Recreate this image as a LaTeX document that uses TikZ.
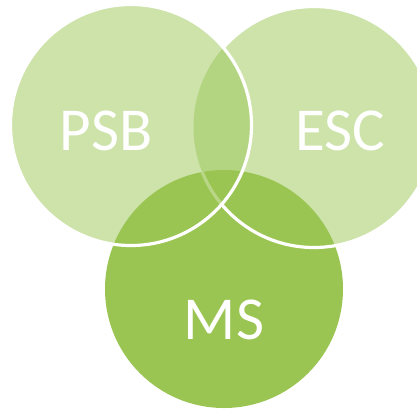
\documentclass[tikz,border=0pt]{standalone}
\usepackage{fontspec}
\setmainfont{Carlito}
\definecolor{lightg}{HTML}{CDE3AA}
\definecolor{midg}{HTML}{B3D582}
\definecolor{darkg}{HTML}{9BC553}
\begin{document}
\begin{tikzpicture}[x=1pt,y=-1pt,
  lbl/.style={text=white,font=\fontsize{61}{61}\selectfont,inner sep=0pt,anchor=center},
  ring/.style={draw=white,line width=3.2pt}]
\useasboundingbox (0,0) rectangle (417,408);
\def\R{120.5}
\coordinate (p) at (131,125);
\coordinate (e) at (314,127);
\coordinate (m) at (224,289);
% fills
\fill[lightg] (p) circle[radius=\R];
\fill[lightg] (e) circle[radius=\R];
\begin{scope}
  \clip (p) circle[radius=\R];
  \fill[midg] (e) circle[radius=\R];
\end{scope}
\fill[darkg] (m) circle[radius=119];
% ESC outline outside PSB
\begin{scope}[even odd rule]
  \clip (-10,-10) rectangle (430,420) (p) circle[radius=\R];
  \draw[ring] (e) circle[radius=\R];
\end{scope}
% faint ESC outline inside PSB and MS
\begin{scope}
  \clip (p) circle[radius=\R];
  \clip (m) circle[radius=119];
  \draw[ring,draw opacity=0.3] (e) circle[radius=\R];
\end{scope}
% PSB outline
\draw[ring] (p) circle[radius=\R];
% labels
\node[lbl] (psb) at (106,131) {PSB};
\node[lbl] (esc) at (340,131) {ESC};
\node[lbl] (ms) at (224,320) {MS};
\end{tikzpicture}
\end{document}
